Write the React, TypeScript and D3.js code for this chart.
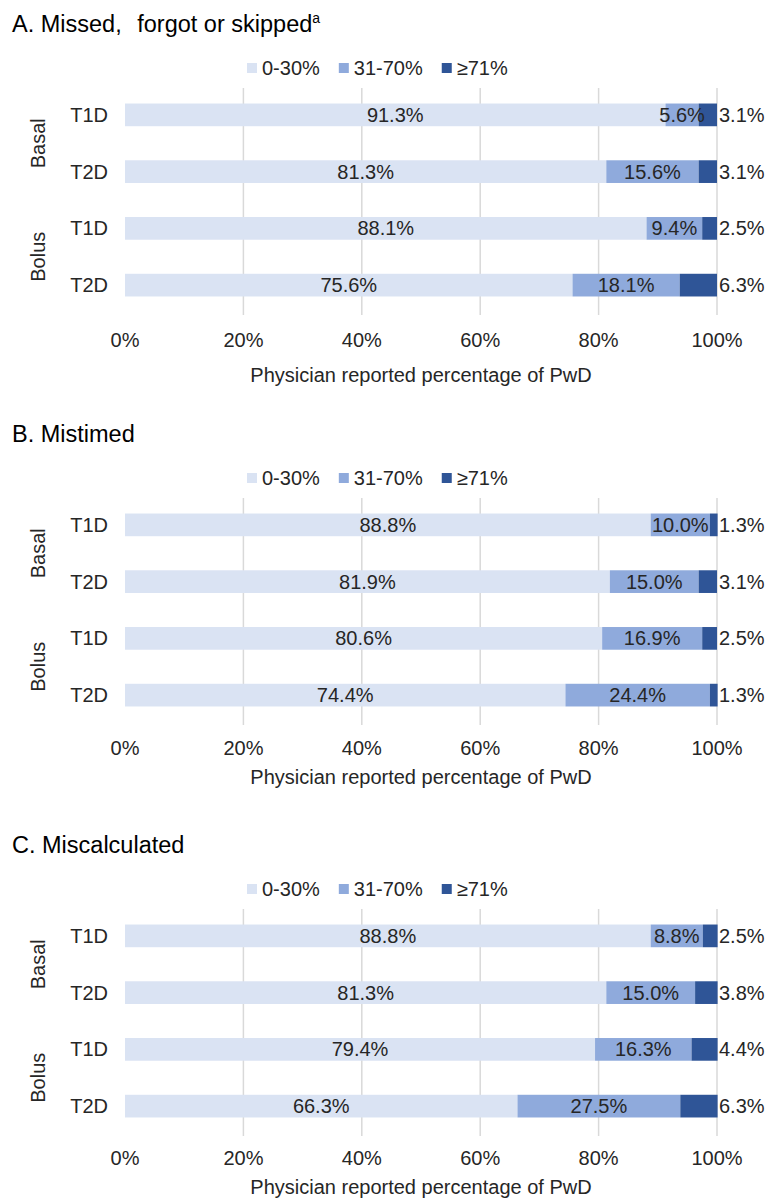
import React from "react";
import * as d3 from "d3";

// chart data
const categories = ["T1D", "T2D", "T1D", "T2D"];
const groups = ["Basal", "Bolus"];
const seriesNames = ["0-30%", "31-70%", "≥71%"];
const panelTitles = ["A. Missed, forgot or skipped", "B. Mistimed", "C. Miscalculated"];
const missedValues = [
  [91.3, 5.6, 3.1],
  [81.3, 15.6, 3.1],
  [88.1, 9.4, 2.5],
  [75.6, 18.1, 6.3],
];
const mistimedValues = [
  [88.8, 10.0, 1.3],
  [81.9, 15.0, 3.1],
  [80.6, 16.9, 2.5],
  [74.4, 24.4, 1.3],
];
const miscalculatedValues = [
  [88.8, 8.8, 2.5],
  [81.3, 15.0, 3.8],
  [79.4, 16.3, 4.4],
  [66.3, 27.5, 6.3],
];
const xTicks = [0, 20, 40, 60, 80, 100];
const axisTitle = "Physician reported percentage of PwD";

const panelValues = [missedValues, mistimedValues, miscalculatedValues];

const colors = ["#DAE3F3", "#8FAADC", "#2F5597"];
const font = "'Liberation Sans', Arial, sans-serif";
const textColor = "#262626";

const width = 765;
const height = 1199;
const panelTop = [0, 410, 821];
const tickBaseline = [347, 345, 344];
const axisTitleBaseline = [382, 374, 373];

const x = d3.scaleLinear().domain([0, 100]).range([125, 717]);
const y = d3
  .scaleBand<number>()
  .domain(d3.range(categories.length))
  .range([86.5, 313.5])
  .paddingInner(0.6)
  .paddingOuter(0.3);

function textWidth(s: string, size: number) {
  const canvas = document.createElement("canvas");
  const ctx = canvas.getContext("2d");
  if (!ctx) return s.length * size * 0.55;
  ctx.font = `${size}px ${font}`;
  return ctx.measureText(s).width;
}

function Legend() {
  let pos = 247;
  const items = seriesNames.map((name, i) => {
    const item = { name, i, x: pos };
    pos += 15 + textWidth(name, 20) + 19;
    return item;
  });
  return (
    <g transform="translate(0,68)">
      {items.map((d) => (
        <g key={d.name} transform={`translate(${d.x},0)`}>
          <rect x={0} y={-5} width={10} height={10} fill={colors[d.i]} />
          <text x={15} y={7} fontSize={20} fill={textColor}>
            {d.name}
          </text>
        </g>
      ))}
    </g>
  );
}

function Title({ index }: { index: number }) {
  const title = panelTitles[index];
  if (index !== 0) {
    return (
      <text x={12} y={32} fontSize={23.5} fill="#000">
        {title}
      </text>
    );
  }
  // the first title has a wide gap after the comma and a superscript note
  const cut = title.indexOf(",") + 1;
  return (
    <text x={12} y={32} fontSize={23.5} fill="#000">
      <tspan>{title.slice(0, cut)}</tspan>
      <tspan dx={9}>{title.slice(cut)}</tspan>
      <tspan fontSize={14} dy={-9}>
        a
      </tspan>
    </text>
  );
}

function Panel({ index }: { index: number }) {
  const values = panelValues[index];
  const rows = values.map((v) => {
    const r: Record<string, number> = {};
    seriesNames.forEach((k, j) => (r[k] = v[j]));
    return r;
  });
  const stacked = d3.stack<Record<string, number>>().keys(seriesNames)(rows);
  const bw = y.bandwidth();

  return (
    <g transform={`translate(0,${panelTop[index]})`}>
      <Title index={index} />
      <Legend />
      {xTicks
        .filter((t) => t > 0)
        .map((t) => (
          <line key={t} x1={x(t)} x2={x(t)} y1={88} y2={315} stroke="#D9D9D9" strokeWidth={1.5} />
        ))}
      {stacked.map((layer, j) => (
        <g key={layer.key} fill={colors[j]}>
          {layer.map((seg, i) => (
            <rect
              key={i}
              x={x(seg[0])}
              width={x(seg[1]) - x(seg[0])}
              y={y(i)!}
              height={bw}
            />
          ))}
        </g>
      ))}
      {stacked.map((layer, j) =>
        layer.map((seg, i) => {
          const v = values[i][j];
          const cy = y(i)! + bw / 2 + 7;
          if (j < 2) {
            return (
              <text
                key={`${j}-${i}`}
                x={(x(seg[0]) + x(seg[1])) / 2}
                y={cy}
                textAnchor="middle"
                fontSize={20}
                fill={textColor}
              >
                {v.toFixed(1)}%
              </text>
            );
          }
          return (
            <text key={`${j}-${i}`} x={x(100) + 2} y={cy} fontSize={20} fill={textColor}>
              {v.toFixed(1)}%
            </text>
          );
        })
      )}
      {categories.map((c, i) => (
        <text
          key={i}
          x={108}
          y={y(i)! + bw / 2 + 7}
          textAnchor="end"
          fontSize={20}
          fill={textColor}
        >
          {c}
        </text>
      ))}
      {groups.map((g, k) => {
        const cy = (y(k * 2)! + y(k * 2 + 1)!) / 2 + bw / 2;
        return (
          <text
            key={g}
            transform={`translate(45,${cy}) rotate(-90)`}
            textAnchor="middle"
            fontSize={20}
            fill={textColor}
          >
            {g}
          </text>
        );
      })}
      {xTicks.map((t) => (
        <text key={t} x={x(t)} y={tickBaseline[index]} textAnchor="middle" fontSize={20} fill={textColor}>
          {t}%
        </text>
      ))}
      <text
        x={(x(0) + x(100)) / 2}
        y={axisTitleBaseline[index]}
        textAnchor="middle"
        fontSize={20}
        fill={textColor}
      >
        {axisTitle}
      </text>
    </g>
  );
}

export default function App() {
  return (
    <svg
      width={width}
      height={height}
      style={{ position: "absolute", left: 0, top: 0, background: "#fff" }}
      fontFamily={font}
    >
      <rect width={width} height={height} fill="#fff" />
      {panelTitles.map((_, i) => (
        <Panel key={i} index={i} />
      ))}
    </svg>
  );
}
